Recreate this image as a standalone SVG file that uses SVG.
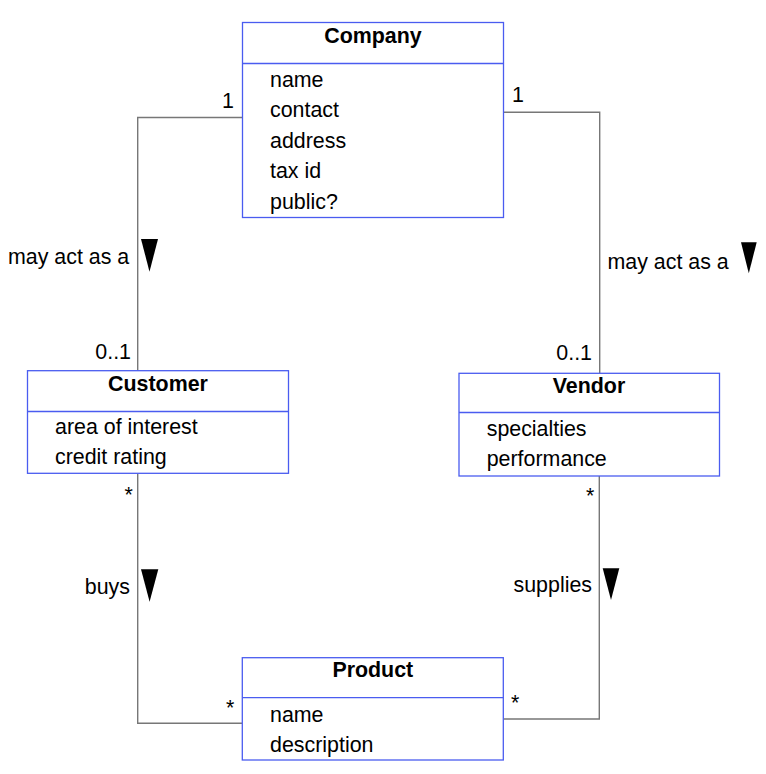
<svg xmlns="http://www.w3.org/2000/svg" width="766" height="774" viewBox="0 0 766 774">
<style>
.box{fill:#fff;stroke:#4a5cf0;stroke-width:1.3}
.div{stroke:#4a5cf0;stroke-width:1.3}
.t{font-family:"Liberation Sans",Arial,sans-serif;font-size:21.4px;fill:#000}
.b{font-weight:bold;text-anchor:middle}
.e{text-anchor:end}
.c{fill:none;stroke:#777;stroke-width:1.4}
.tri{fill:#000}
</style>
<rect width="766" height="774" fill="#fff"/>
<g id="connectors">
<polyline class="c" points="242.5,117.5 137.7,117.5 137.7,370.7"/>
<polyline class="c" points="503.3,112.3 599.7,112.3 599.7,373.3"/>
<polyline class="c" points="137.7,473.3 137.7,723.3 242.3,723.3"/>
<polyline class="c" points="503.3,719 599.3,719 599.3,476"/>
<text class="t e" x="234" y="107.5">1</text>
<text class="t e" x="131" y="358.5">0..1</text>
<text class="t" x="8" y="263.5">may act as a</text>
<polygon class="tri" points="141,239 158,239 149.5,271.7"/>
<text class="t" x="512" y="102">1</text>
<text class="t e" x="592" y="360">0..1</text>
<text class="t" x="607.5" y="268.5">may act as a</text>
<polygon class="tri" points="741,242.3 756.7,242.3 748.8,273.3"/>
<text class="t" x="124.5" y="502">*</text>
<text class="t" x="226" y="714.5">*</text>
<text class="t e" x="130" y="594">buys</text>
<polygon class="tri" points="141,569.3 158.3,569.3 149.6,601.7"/>
<text class="t" x="586" y="503">*</text>
<text class="t" x="511" y="710">*</text>
<text class="t e" x="592" y="591.7">supplies</text>
<polygon class="tri" points="602.7,568.3 619.3,568.3 611,600"/>
</g>
<g id="company">
<rect class="box" x="242.5" y="22.5" width="261" height="195"/>
<line class="div" x1="242.5" y1="63.5" x2="503.5" y2="63.5"/>
<text class="t b" x="373" y="42.5">Company</text>
<text class="t" x="270" y="86.5">name</text>
<text class="t" x="270" y="117">contact</text>
<text class="t" x="270" y="147.5">address</text>
<text class="t" x="270" y="178">tax id</text>
<text class="t" x="270" y="208.5">public?</text>
</g>
<g id="customer">
<rect class="box" x="27.5" y="370.7" width="261" height="102.6"/>
<line class="div" x1="27.5" y1="411.5" x2="288.5" y2="411.5"/>
<text class="t b" x="158" y="390.7">Customer</text>
<text class="t" x="55" y="434">area of interest</text>
<text class="t" x="55" y="464">credit rating</text>
</g>
<g id="vendor">
<rect class="box" x="459" y="373.3" width="260.5" height="102.7"/>
<line class="div" x1="459" y1="412.5" x2="719.5" y2="412.5"/>
<text class="t b" x="589" y="393.3">Vendor</text>
<text class="t" x="486.7" y="436">specialties</text>
<text class="t" x="486.7" y="466">performance</text>
</g>
<g id="product">
<rect class="box" x="242.3" y="657.7" width="261" height="102.3"/>
<line class="div" x1="242.3" y1="697.7" x2="503.3" y2="697.7"/>
<text class="t b" x="372.8" y="677.3">Product</text>
<text class="t" x="270" y="721.7">name</text>
<text class="t" x="270" y="751.7">description</text>
</g>
</svg>
